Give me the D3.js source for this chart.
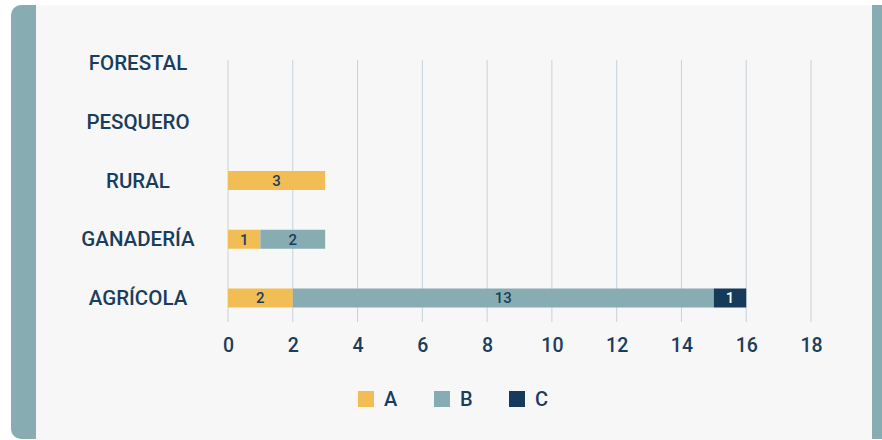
<!DOCTYPE html>
<meta charset="utf-8">
<html>
<script src="https://d3js.org/d3.v7.min.js"></script>
<style>
    body { margin: 0; background: #ffffff; }
    text { font-family: Roboto, "Noto Sans", sans-serif; }
</style>
<body>
<div id="chart"></div>
<script>
    // Chart data
    var categories = ["FORESTAL", "PESQUERO", "RURAL", "GANADERÍA", "AGRÍCOLA"];
    var seriesNames = ["A", "B", "C"];
    var valuesA = [0, 0, 3, 1, 2];
    var valuesB = [0, 0, 0, 2, 13];
    var valuesC = [0, 0, 0, 0, 1];
    var xTicks = [0, 2, 4, 6, 8, 10, 12, 14, 16, 18];
    var colors = ["#f2bd55", "#87adb3", "#153a5a"];
    var navy = "#1b3d5c";

    var W = 882, H = 440;
    var svg = d3.select("#chart").append("svg")
        .attr("width", W)
        .attr("height", H);

    // card frame
    svg.append("rect")
        .attr("x", 11).attr("y", 5)
        .attr("width", W + 20).attr("height", 434)
        .attr("rx", 10)
        .attr("fill", "#87adb3");
    svg.append("rect")
        .attr("x", 36).attr("y", 5)
        .attr("width", 836).attr("height", H)
        .attr("fill", "#f7f7f7");

    // scales
    var x = d3.scaleLinear().domain([0, 18]).range([228, 811]);
    var y = d3.scalePoint().domain(categories).range([63, 298]);
    var barH = 19;

    // grid lines
    svg.selectAll(".grid")
        .data(xTicks)
        .enter().append("line")
        .attr("x1", function (d) { return x(d); })
        .attr("x2", function (d) { return x(d); })
        .attr("y1", 60)
        .attr("y2", 322)
        .attr("stroke", "#c6d2da")
        .attr("stroke-width", 1);

    // x axis labels
    var xAxis = svg.append("g")
        .attr("transform", "translate(0,322)")
        .call(d3.axisBottom(x).tickValues(xTicks).tickSize(0).tickPadding(16));
    xAxis.select(".domain").remove();
    xAxis.selectAll("text")
        .attr("fill", navy)
        .style("font-size", "19.5px")
        .style("font-weight", 500);

    // category labels
    svg.selectAll(".cat")
        .data(categories)
        .enter().append("text")
        .attr("x", 138)
        .attr("y", function (d) { return y(d); })
        .attr("dy", "0.35em")
        .attr("text-anchor", "middle")
        .attr("fill", navy)
        .style("font-size", "20.5px")
        .style("font-weight", 500)
        .text(function (d) { return d; });

    // stacked bars
    var rows = categories.map(function (c, i) {
        return { cat: c, A: valuesA[i], B: valuesB[i], C: valuesC[i] };
    });
    var stacked = d3.stack().keys(seriesNames)(rows);

    stacked.forEach(function (layer, k) {
        var g = svg.append("g");
        var segs = layer.filter(function (d) { return d[1] - d[0] > 0; });
        g.selectAll("rect")
            .data(segs)
            .enter().append("rect")
            .attr("x", function (d) { return x(d[0]); })
            .attr("width", function (d) { return x(d[1]) - x(d[0]); })
            .attr("y", function (d) { return y(d.data.cat) - barH / 2; })
            .attr("height", barH)
            .attr("fill", colors[k]);
        g.selectAll("text")
            .data(segs)
            .enter().append("text")
            .attr("x", function (d) { return (x(d[0]) + x(d[1])) / 2; })
            .attr("y", function (d) { return y(d.data.cat); })
            .attr("dy", "0.36em")
            .attr("text-anchor", "middle")
            .attr("fill", k == 2 ? "#ffffff" : navy)
            .style("font-size", "15px")
            .style("font-weight", 500)
            .text(function (d) { return d[1] - d[0]; });
    });

    // legend
    var legendX = [358, 434, 509];
    var legend = svg.selectAll(".legend")
        .data(seriesNames)
        .enter().append("g")
        .attr("transform", function (d, i) { return "translate(" + legendX[i] + ",391)"; });
    legend.append("rect")
        .attr("width", 16).attr("height", 16)
        .attr("fill", function (d, i) { return colors[i]; });
    legend.append("text")
        .attr("x", 26)
        .attr("y", 8)
        .attr("dy", "0.36em")
        .attr("fill", navy)
        .style("font-size", "20px")
        .style("font-weight", 500)
        .text(function (d) { return d; });
</script>
</body>
</html>
